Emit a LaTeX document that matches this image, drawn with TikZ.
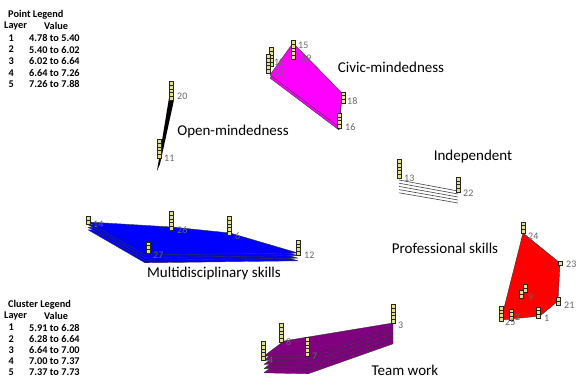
\documentclass[tikz,border=0pt]{standalone}
\usepackage{fontspec}
\setmainfont{Carlito}
\definecolor{cellfill}{RGB}{225,225,140}
\definecolor{teamcol}{RGB}{128,0,128}
\definecolor{civiccol}{RGB}{255,0,255}
\tikzset{
  cell/.style={draw=black!85,fill=cellfill,line width=0.35pt},
  ptlabel/.style={anchor=west,inner sep=0pt,text=black!60,font=\fontsize{10}{10}\selectfont},
  clname/.style={inner sep=0pt,font=\fontsize{15}{15}\selectfont},
  legtext/.style={inner sep=0pt,anchor=west,font=\bfseries\fontsize{10.3}{10.5}\selectfont},
  slab/.style={draw=black!80,line width=0.4pt,line join=round}
}
% stack of point cells: x, bottom y, number of cells
\newcommand\pstack[3]{%
  \foreach \c in {1,...,#3}
    \draw[cell] ({#1-2},{#2-3.7*(\c-1)}) rectangle ++(4,-3.7);}
\begin{document}
\begin{tikzpicture}[x=1pt,y=-1pt]
  \useasboundingbox (0,0) rectangle (577,379);
  %
  % Point legend
  \node[legtext] (ptitle) at (8,15) {Point Legend};
  \node[legtext] (player) at (4,26) {Layer};
  \node[legtext] (pvalue) at (44,26) {Value};
  \foreach \v [count=\r] in {4.78 to 5.40,5.40 to 6.02,6.02 to 6.64,6.64 to 7.26,7.26 to 7.88}{
    \node[legtext] (pl\r) at (8.5,{38+11.6*(\r-1)}) {\r};
    \node[legtext] (pv\r) at (29,{38+11.6*(\r-1)}) {\v};
  }
  %
  % Cluster legend
  \node[legtext] (ctitle) at (8,305) {Cluster Legend};
  \node[legtext] (clayer) at (4,316) {Layer};
  \node[legtext] (cvalue) at (44,316) {Value};
  \foreach \v [count=\r] in {5.91 to 6.28,6.28 to 6.64,6.64 to 7.00,7.00 to 7.37,7.37 to 7.73}{
    \node[legtext] (cl\r) at (8.5,{327.5+11.2*(\r-1)}) {\r};
    \node[legtext] (cv\r) at (29,{327.5+11.2*(\r-1)}) {\v};
  }
  %
  % Civic-mindedness
  \filldraw[slab,fill=civiccol,yshift=-3pt] (293,43) -- (342,93) -- (339,127) -- (270,75) -- cycle;
  \filldraw[slab,fill=civiccol] (293,43) -- (342,93) -- (339,127) -- (270,75) -- cycle;
  \pstack{293}{59}{5}
  \pstack{271}{66}{5}
  \pstack{268}{73}{5}
  \pstack{343}{103}{3}
  \pstack{339}{128}{4}
  \node[ptlabel] (p15) at (298,45) {15};
  \node[ptlabel] (p19) at (301,58) {19};
  \node[ptlabel] (p10) at (274,62) {10};
  \node[ptlabel] (p17) at (274,72) {17};
  \node[ptlabel] (p18) at (347,101) {18};
  \node[ptlabel] (p16) at (345,127) {16};
  \node[clname] (civic) at (391,67) {Civic-mindedness};
  %
  % Open-mindedness
  \fill[black] (169,98) -- (174,100) -- (160,164) -- (157,171) -- cycle;
  \pstack{171}{100}{5}
  \pstack{159}{158}{5}
  \node[ptlabel] (p20) at (177,96) {20};
  \node[ptlabel] (p11) at (164,158) {11};
  \node[clname] (open) at (233,132) {Open-mindedness};
  %
  % Independent
  \foreach \k in {0,...,4}
    \draw[black!75,line width=0.6pt] (399,{180+3.2*\k}) -- (458,{191+3*\k});
  \pstack{399}{178}{5}
  \pstack{458}{192}{4}
  \node[ptlabel] (p13) at (404,178) {13};
  \node[ptlabel] (p22) at (463,193) {22};
  \node[clname] (indep) at (473,157) {Independent};
  %
  % Multidisciplinary skills
  \foreach \k in {3,2,1}
    \filldraw[slab,fill=blue,yshift=-\k*2.6pt] (88,222) -- (172,227) -- (230,233) -- (298,253) -- (145,255) -- cycle;
  \filldraw[slab,fill=blue] (88,222) -- (172,227) -- (230,233) -- (298,253) -- (145,255) -- cycle;
  \pstack{88}{224}{2}
  \pstack{171}{230}{5}
  \pstack{229}{235}{5}
  \pstack{298}{255}{4}
  \pstack{148}{253}{3}
  \node[ptlabel] (p14) at (93,224) {14};
  \node[ptlabel] (p26) at (177,230) {26};
  \node[ptlabel] (p6) at (235,236) {6};
  \node[ptlabel] (p12) at (304,255) {12};
  \node[ptlabel] (p27) at (153,255) {27};
  \node[clname] (multi) at (214,273) {Multidisciplinary skills};
  %
  % Professional skills
  \filldraw[slab,fill=red] (523,233) -- (560,263) -- (558,301) -- (540,316) -- (501,320) -- cycle;
  \pstack{523}{233}{3}
  \pstack{560}{265}{1}
  \pstack{558}{305}{2}
  \pstack{538}{318}{3}
  \pstack{511}{320}{3}
  \pstack{501}{321}{4}
  \pstack{521}{298}{2}
  \pstack{525}{292}{2}
  \node[ptlabel] (p24) at (528,236) {24};
  \node[ptlabel] (p23) at (566,264) {23};
  \node[ptlabel] (p21) at (564,305) {21};
  \node[ptlabel] (p1) at (544,318) {1};
  \node[ptlabel] (p2) at (515,317) {2};
  \node[ptlabel] (p25) at (505,322) {25};
  \node[ptlabel] (p9) at (528,297) {9};
  \node[clname] (prof) at (445,248) {Professional skills};
  %
  % Team work
  \foreach \k in {4,3,2,1}
    \filldraw[slab,fill=teamcol,yshift=-\k*4.2pt] (264,356) -- (284,341) -- (393,323) -- (393,327) -- (308,357) -- cycle;
  \filldraw[slab,fill=teamcol] (264,356) -- (284,341) -- (393,323) -- (393,327) -- (308,357) -- cycle;
  \pstack{393}{323}{5}
  \pstack{281}{342}{5}
  \pstack{307}{356}{5}
  \pstack{263}{360}{5}
  \node[ptlabel] (p3) at (398,325) {3};
  \node[ptlabel] (p8) at (286,342) {8};
  \node[ptlabel] (p7) at (312,356) {7};
  \node[ptlabel] (p4) at (268,360) {4};
  \node[clname] (team) at (405,370) {Team work};
  %
\end{tikzpicture}
\end{document}
